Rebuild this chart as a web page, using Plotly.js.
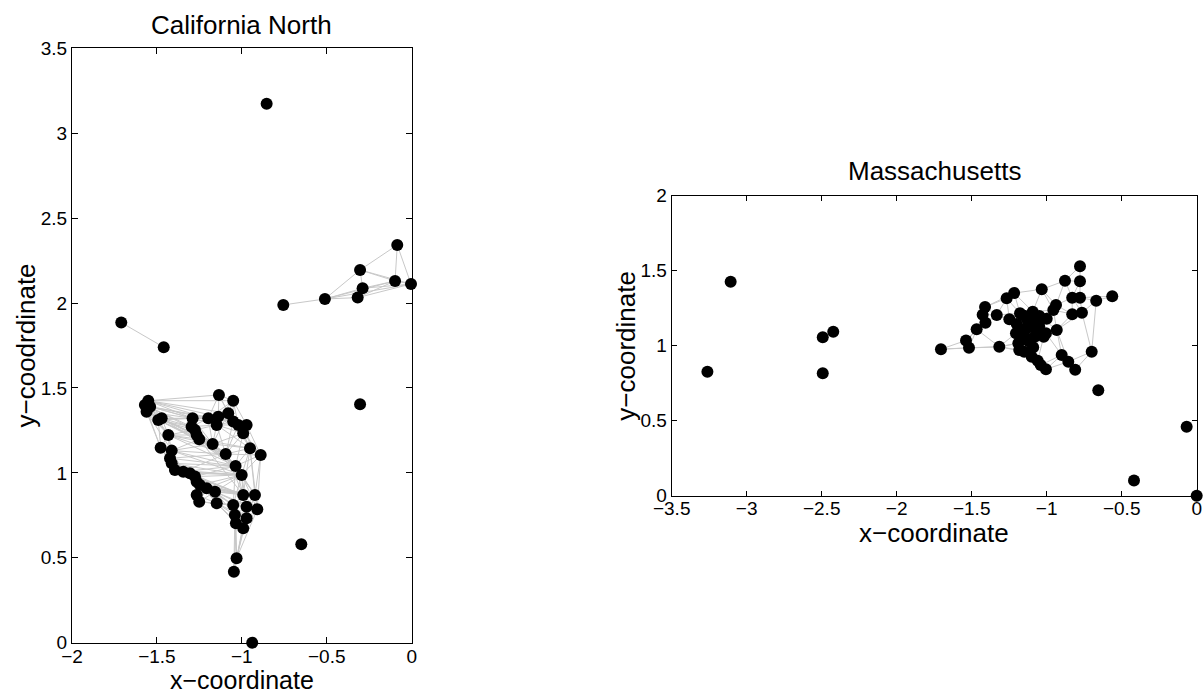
<!DOCTYPE html>
<html>
<head>
<meta charset="utf-8">
<script src="https://cdn.plot.ly/plotly-3.0.1.min.js"></script>
<style>
  html, body { margin: 0; padding: 0; background: #fff; }
  #chart { width: 1204px; height: 693px; }
</style>
</head>
<body>
<div id="chart"></div>
<script>
// ---- California North: node coordinates ----
const caX = [
  -1.551, -1.571, -1.561, -1.540, -1.492, -1.472, -1.433, -1.478, -1.413, -1.423,
  -1.413, -1.394, -1.345, -1.306, -1.276, -1.266, -1.247, -1.266, -1.251, -1.207,
  -1.158, -1.148, -1.290, -1.296, -1.276, -1.266, -1.251, -1.198, -1.139, -1.148,
  -1.135, -1.051, -1.080, -1.051, -1.021, -0.972, -0.992, -1.172, -1.095, -0.952,
  -0.889, -1.037, -1.001, -0.992, -0.923, -1.051, -0.972, -0.909, -1.041, -0.972,
  -1.035, -0.992, -1.031, -1.047,
  -1.710, -1.460, -0.854, -0.939, -0.650, -0.304, -0.756, -0.511, -0.318, -0.289,
  -0.304, -0.098, -0.004, -0.085
];
const caY = [
  1.425, 1.400, 1.360, 1.390, 1.311, 1.321, 1.223, 1.148, 1.131, 1.086,
  1.056, 1.017, 1.007, 0.998, 0.978, 0.948, 0.929, 0.870, 0.830, 0.909,
  0.889, 0.821, 1.321, 1.272, 1.253, 1.223, 1.198, 1.321, 1.331, 1.282,
  1.459, 1.425, 1.351, 1.302, 1.282, 1.282, 1.233, 1.170, 1.111, 1.145,
  1.105, 1.041, 0.988, 0.870, 0.870, 0.811, 0.801, 0.786, 0.752, 0.733,
  0.703, 0.674, 0.497, 0.418,
  1.885, 1.740, 3.173, 0.000, 0.580, 1.404, 1.989, 2.024, 2.032, 2.087,
  2.195, 2.130, 2.112, 2.342
];
// neighbours of each node (links to higher indices only)
const caLinks = [
  [1,2,3,4,5,22,27,28,30,31,32],
  [2,3,4,6,7,23,24],
  [3,4,5,6,7,8,22,25,37],
  [4,5,22,27,29,33],
  [5,6,7,22,23,24,26,37,38],
  [6,22,23,25,27,41],
  [7,8,9,24,25,26,37,38,41],
  [8,9,10,11],
  [9,10,11,12,26,37,38,41,42],
  [10,11,12,13,38,41],
  [11,12,13,14,41,42],
  [12,13,14,15,42,43],
  [13,14,15,16,38,41,42],
  [14,15,16,19,42,43],
  [15,16,17,19,41,42,43],
  [16,17,18,19,20,43,45],
  [17,18,19,20,21,42,43,44],
  [18,19,20,21],
  [19,20,21,45,46],
  [20,21,42,43,44,45],
  [21,42,43,44,45,46,47,48],
  [45,46,48,49,50,51],
  [23,24,25,27,28,29,32,37],
  [24,25,26,27,29,37,38],
  [25,26,29,37,38,41],
  [26,37,38,41,42],
  [37,38,39,41,42,43],
  [28,29,30,31,32,33,37],
  [29,30,31,32,33,34,36],
  [32,33,34,36,37,38,39],
  [31,32,33],
  [32,33,34,35],
  [33,34,35,36,37],
  [34,35,36,38,39],
  [35,36,38,39,40],
  [36,39,40],
  [37,38,39,40,41],
  [38,39,41,42],
  [39,40,41,42,43,44],
  [40,41,42,43,44,47],
  [41,42,44,47],
  [42,43,44,45],
  [43,44,45,46,47],
  [44,45,46,47,48,49],
  [46,47,49],
  [46,48,49,50,52],
  [47,48,49,50,51,52],
  [49,51,52],
  [49,50,51,52,53],
  [50,51,52],
  [51,52,53],
  [52,53],
  [53],
  [],
  [55], [], [], [], [], [],
  [61],
  [62,63,64,65,66],
  [63,65,66],
  [64,65,66],
  [65,66,67],
  [66,67],
  [67],
  []
];

// ---- Massachusetts: node coordinates ----
const maX = [
  -3.262, -3.107, -2.493, -2.423, -2.493, -1.705, -1.538, -1.518, -1.467, -1.408,
  -1.427, -1.411, -1.333, -1.316, -1.267, -1.217, -1.249, -1.178, -1.200, -1.205,
  -1.189, -1.183, -1.145, -1.133, -1.129, -1.093, -1.049, -1.067, -1.100, -1.040,
  -1.005, -1.033, -1.005, -0.956, -0.938, -0.933, -0.878, -0.900, -0.856, -0.778,
  -0.778, -0.830, -0.778, -0.563, -0.670, -0.765, -0.830, -0.810, -0.700, -0.656,
  -0.067, -0.418, 0.000, -1.150, -1.100, -1.080, -1.120, -1.160, -1.050, -1.020,
  -1.090, -1.150, -1.060, -1.000
];
const maY = [
  0.827, 1.427, 1.056, 1.093, 0.816, 0.977, 1.035, 0.986, 1.109, 1.153,
  1.207, 1.258, 1.205, 0.993, 1.316, 1.351, 1.176, 1.216, 1.145, 1.083,
  1.016, 0.971, 1.060, 1.116, 1.171, 1.227, 1.198, 1.105, 0.927, 0.871,
  0.843, 1.376, 1.083, 1.238, 1.271, 1.105, 1.433, 0.938, 0.893, 1.530,
  1.430, 1.320, 1.320, 1.330, 1.300, 1.220, 1.210, 0.840, 0.960, 0.703,
  0.459, 0.102, 0.000, 1.200, 1.160, 1.060, 1.030, 1.110, 1.130, 1.060,
  0.990, 0.960, 0.900, 1.180
];
const maLinks = [
  [], [], [], [], [],
  [6,7,13],
  [7,8,9],
  [8,13],
  [9,10,12,13],
  [10,11,12],
  [11,12],
  [12,14,15],
  [14,16,17,18],
  [19,20,21,56,61],
  [15,16,17],
  [17,25,31],
  [17,18,19,53],
  [18,24,25,53],
  [19,22,23,57],
  [20,22,56,57],
  [21,22,56,61],
  [28,60,61],
  [23,27,55,56],
  [24,27,54,57],
  [25,26,53,54],
  [26,31,33],
  [33,35,58,63],
  [32,35,55,58],
  [29,60,62],
  [30,37,62],
  [37,38],
  [33,34,36],
  [35,37,59],
  [34,35,46],
  [36,41,46],
  [37,38,45,46],
  [39,40,41],
  [38,47],
  [47,48],
  [40],
  [41,42],
  [42,45,46],
  [43,44,45],
  [44],
  [45,48],
  [46,48],
  [],
  [48],
  [], [], [], [], [],
  [54,57],
  [57,58],
  [56,59,60],
  [60,61],
  [],
  [59,63],
  [60,62],
  [61,62],
  [62],
  [],
  []
];

// ---- tick labels ----
const caXTicks = [-2, -1.5, -1, -0.5, 0];
const caXLabels = ["\u22122", "\u22121.5", "\u22121", "\u22120.5", "0"];
const caYTicks = [0, 0.5, 1, 1.5, 2, 2.5, 3, 3.5];
const caYLabels = ["0", "0.5", "1", "1.5", "2", "2.5", "3", "3.5"];
const maXTicks = [-3.5, -3, -2.5, -2, -1.5, -1, -0.5, 0];
const maXLabels = ["\u22123.5", "\u22123", "\u22122.5", "\u22122", "\u22121.5", "\u22121", "\u22120.5", "0"];
const maYTicks = [0, 0.5, 1, 1.5, 2];
const maYLabels = ["0", "0.5", "1", "1.5", "2"];

// turn an adjacency list into one polyline broken by nulls
function linkPath(xs, ys, links) {
  const px = [], py = [];
  links.forEach((nbrs, i) => {
    nbrs.forEach(j => {
      px.push(xs[i], xs[j], null);
      py.push(ys[i], ys[j], null);
    });
  });
  return { x: px, y: py };
}

const caPath = linkPath(caX, caY, caLinks);
const maPath = linkPath(maX, maY, maLinks);

const linkStyle = { color: "rgb(200,200,200)", width: 1 };
const dotStyle = { color: "#000000", size: 12, line: { width: 0 } };

const traces = [
  { type: "scatter", mode: "lines", x: caPath.x, y: caPath.y, xaxis: "x", yaxis: "y",
    line: linkStyle, hoverinfo: "skip", connectgaps: false },
  { type: "scatter", mode: "markers", x: caX, y: caY, xaxis: "x", yaxis: "y",
    marker: dotStyle, cliponaxis: false },
  { type: "scatter", mode: "lines", x: maPath.x, y: maPath.y, xaxis: "x2", yaxis: "y2",
    line: linkStyle, hoverinfo: "skip", connectgaps: false },
  { type: "scatter", mode: "markers", x: maX, y: maY, xaxis: "x2", yaxis: "y2",
    marker: dotStyle, cliponaxis: false }
];

const FONT = "Liberation Sans, Arial, Helvetica, sans-serif";

function axisBase(extra) {
  return Object.assign({
    showgrid: false, zeroline: false, showline: true, linecolor: "#000", linewidth: 1,
    mirror: "ticks", ticks: "inside", ticklen: 5, tickcolor: "#000", tickwidth: 1,
    tickmode: "array", autorange: false, fixedrange: true,
    tickfont: { family: FONT, size: 19, color: "#000" }
  }, extra);
}

const W = 1204, H = 693;
const px2x = p => p / W;
const px2y = p => 1 - p / H;
const labelFont = { family: FONT, size: 26, color: "#000" };

const layout = {
  width: W, height: H,
  margin: { l: 0, r: 0, t: 0, b: 0, pad: 0 },
  paper_bgcolor: "#fff", plot_bgcolor: "#fff",
  showlegend: false,
  font: { family: FONT, color: "#000" },
  xaxis: axisBase({ domain: [px2x(72), px2x(411.7)], range: [-2, 0], anchor: "y",
    tickvals: caXTicks, ticktext: caXLabels, ticklen: 6, ticklabelstandoff: -4 }),
  yaxis: axisBase({ domain: [px2y(642.7), px2y(48.3)], range: [0, 3.5], anchor: "x",
    tickvals: caYTicks, ticktext: caYLabels, ticklen: 6 }),
  xaxis2: axisBase({ domain: [px2x(671.7), px2x(1196.7)], range: [-3.5, 0], anchor: "y2",
    tickvals: maXTicks, ticktext: maXLabels, ticklabelstandoff: -5 }),
  yaxis2: axisBase({ domain: [px2y(495.7), px2y(195.7)], range: [0, 2], anchor: "x2",
    tickvals: maYTicks, ticktext: maYLabels }),
  annotations: [
    { text: "California North", xref: "paper", yref: "paper", x: px2x(241.8), y: px2y(25),
      xanchor: "center", yanchor: "middle", showarrow: false, font: labelFont },
    { text: "x\u2212coordinate", xref: "paper", yref: "paper", x: px2x(241.8), y: px2y(680),
      xanchor: "center", yanchor: "middle", showarrow: false, font: { family: FONT, size: 25, color: "#000" } },
    { text: "y\u2212coodrdinate", xref: "paper", yref: "paper", x: px2x(25), y: px2y(345.5),
      xanchor: "center", yanchor: "middle", textangle: -90, showarrow: false, font: labelFont },
    { text: "Massachusetts", xref: "paper", yref: "paper", x: px2x(934.2), y: px2y(171),
      xanchor: "center", yanchor: "middle", showarrow: false, font: labelFont },
    { text: "x\u2212coordinate", xref: "paper", yref: "paper", x: px2x(934.2), y: px2y(533),
      xanchor: "center", yanchor: "middle", showarrow: false, font: labelFont },
    { text: "y\u2212coordinate", xref: "paper", yref: "paper", x: px2x(626), y: px2y(345.7),
      xanchor: "center", yanchor: "middle", textangle: -90, showarrow: false, font: labelFont }
  ]
};

Plotly.newPlot("chart", traces, layout, { displayModeBar: false, staticPlot: true });
</script>
</body>
</html>
